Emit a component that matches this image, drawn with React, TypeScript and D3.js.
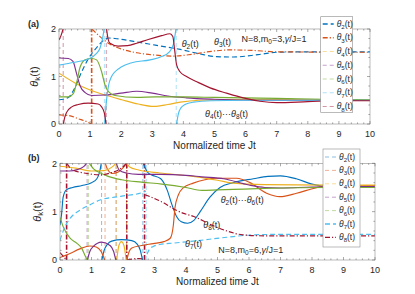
import React from 'react';
import * as d3 from 'd3';

type Pt = [number, number];

const COLORS = ['#0072BD', '#D95319', '#EDB120', '#7E2F8E', '#77AC30', '#4DBEEE', '#A2142F'];
const SERIES_K = [2, 3, 4, 5, 6, 7, 8];
const X_TICKS = [0, 1, 2, 3, 4, 5, 6, 7, 8, 9, 10];
const Y_TICKS = [0, 1, 2];

// ---------- panel (a): N=8, m0=3 ----------
const aTheta2: Pt[][] = [[[0, 0.51], [0.3, 0.56], [0.5, 0.75], [0.73, 1.1], [0.94, 1.37], [1.2, 1.6], [1.45, 1.77], [1.6, 1.81], [1.8, 1.8], [2.4, 1.74], [3.1, 1.66], [3.9, 1.57], [4.5, 1.48], [5.0, 1.42], [5.6, 1.41], [6.4, 1.46], [7.0, 1.51], [8, 1.52], [10, 1.52]]];
const aTheta3: Pt[][] = [
  [[0, 0.19], [0.3, 0.18], [0.62, 0.11], [0.89, 0.05], [1.04, 0]],
  [[1.06, 2.0], [1.3, 1.85], [1.64, 1.68], [2.0, 1.58], [2.5, 1.5], [3.1, 1.45], [3.7, 1.43], [4.3, 1.47], [4.9, 1.53], [5.5, 1.56], [6.2, 1.55], [7, 1.52], [10, 1.51]],
];
const aTheta4: Pt[][] = [[[0, 1.07], [0.5, 0.87], [0.94, 0.73], [1.48, 0.61], [2.02, 0.51], [2.55, 0.42], [3.05, 0.37], [3.5, 0.41], [3.9, 0.46], [4.5, 0.5], [6, 0.52], [8, 0.51], [10, 0.5]]];
const aTheta5: Pt[][] = [[[0, 1.39], [0.3, 1.38], [0.45, 1.32], [0.57, 1.05], [0.68, 0.8], [0.84, 0.66], [1.05, 0.6], [1.5, 0.61], [2.0, 0.65], [2.5, 0.69], [3.0, 0.65], [3.5, 0.59], [4.1, 0.55], [5, 0.52], [6.5, 0.5], [10, 0.5]]];
const aTheta6: Pt[][] = [[[0, 0.57], [0.3, 0.57], [0.46, 0.64], [0.57, 0.88], [0.68, 1.2], [0.84, 1.35], [1.05, 1.38], [1.21, 1.35], [1.37, 1.1], [1.48, 0.82], [1.59, 0.68], [1.8, 0.6], [2.5, 0.56], [3.1, 0.57], [4, 0.57], [5, 0.56], [6, 0.55], [7, 0.54], [8.5, 0.52], [10, 0.51]]];
const aTheta7: Pt[][] = [
  [[0, 1.24], [0.5, 1.3], [0.94, 1.37], [1.2, 1.48], [1.32, 1.6], [1.4, 1.8], [1.45, 2.0]],
  [[1.47, 0], [1.52, 0.45], [1.59, 0.8], [1.69, 1.0], [1.8, 1.1], [2.0, 1.2], [2.34, 1.29], [2.93, 1.35], [3.3, 1.42], [3.55, 1.52], [3.68, 1.68], [3.76, 2.0]],
  [[3.78, 0], [3.84, 0.22], [3.92, 0.34], [4.05, 0.41], [4.32, 0.46], [4.9, 0.49], [6, 0.5], [8, 0.5], [10, 0.5]],
];
const aTheta8: Pt[][] = [
  [[0, 1.77], [0.07, 1.87], [0.13, 2.0]],
  [[0.14, 0], [0.18, 0.13], [0.25, 0.25], [0.41, 0.36], [0.62, 0.41], [0.94, 0.44], [1.26, 0.42], [1.37, 0.36], [1.46, 0.23], [1.51, 0]],
  [[1.53, 2.0], [1.57, 1.82], [1.64, 1.7], [1.9, 1.64], [2.2, 1.65], [2.5, 1.7], [2.87, 1.78], [3.3, 1.86], [3.57, 1.9], [3.66, 1.84], [3.72, 1.55], [3.78, 1.25], [3.89, 1.1], [4.1, 1.0], [4.43, 0.89], [4.86, 0.76], [5.39, 0.65], [5.93, 0.55], [6.46, 0.48], [7.0, 0.45], [8.0, 0.47], [9, 0.49], [10, 0.49]],
];
// wrap / jump verticals: [k, t, from, to]
const aJumps: [number, number, number, number][] = [[8, 0.135, 0, 2], [3, 1.05, 0, 2], [7, 1.46, 0, 2], [8, 1.52, 0, 2], [7, 3.77, 0, 2]];

// ---------- panel (b): N=8, m0=6 ----------
const bTheta2: Pt[][] = [
  [[0, 0.72], [0.05, 0.95], [0.1, 1.3], [0.2, 1.45], [0.4, 1.5], [0.7, 1.54], [1.0, 1.6], [1.17, 1.68], [1.25, 1.8], [1.31, 2.0]],
  [[1.33, 0], [1.4, 0.2], [1.5, 0.32], [1.64, 0.39], [1.96, 0.42], [2.28, 0.4], [2.45, 0.33], [2.55, 0.2], [2.62, 0]],
  [[2.64, 2.0], [2.72, 1.88], [2.8, 1.8], [2.91, 1.76], [3.2, 1.68], [3.4, 1.45], [3.55, 1.15], [3.7, 0.9], [3.85, 0.79], [4.05, 0.76], [4.25, 0.82], [4.45, 1.0], [4.76, 1.3], [5.08, 1.5], [5.5, 1.6], [6.14, 1.68], [6.6, 1.73], [7.0, 1.74], [7.5, 1.68], [8.0, 1.57], [8.5, 1.52], [10, 1.52]],
];
const bTheta3: Pt[][] = [
  [[0, 0.05], [0.3, 0.13], [0.63, 0.23], [0.95, 0.29], [1.15, 0.27], [1.3, 0.18], [1.42, 0]],
  [[1.44, 2.0], [1.52, 1.86], [1.65, 1.79], [1.85, 1.82], [2.02, 1.92], [2.11, 2.0]],
  [[2.12, 0], [2.2, 0.18], [2.28, 0.25], [2.59, 0.3], [2.96, 0.34], [3.3, 0.38], [3.5, 0.45], [3.6, 0.73], [3.65, 1.08], [3.76, 1.35], [3.91, 1.49], [4.23, 1.59], [4.6, 1.66], [4.97, 1.69], [5.61, 1.69], [6.03, 1.6], [6.56, 1.38], [6.98, 1.31], [7.51, 1.38], [8.04, 1.48], [8.4, 1.53], [10, 1.54]],
];
const bTheta4: Pt[][] = [
  [[0, 1.94], [0.5, 1.9], [1.0, 1.84], [1.4, 1.85], [1.65, 1.92], [1.78, 2.0]],
  [[1.8, 0], [1.87, 0.3], [1.95, 0.38], [2.03, 0.3], [2.1, 0]],
  [[2.12, 2.0], [2.2, 1.93], [2.5, 1.86], [3.17, 1.8], [4.23, 1.73], [5.0, 1.65], [5.5, 1.59], [6.5, 1.56], [8.5, 1.55], [10, 1.55]],
];
const bTheta5: Pt[][] = [
  [[0, 1.84], [0.3, 1.84], [0.55, 1.87], [0.75, 1.93], [0.85, 2.0]],
  [[0.87, 0], [0.95, 0.18], [1.06, 0.28], [1.32, 0.37], [1.59, 0.3], [1.7, 0.18], [1.77, 0]],
  [[1.79, 2.0], [1.88, 1.86], [2.1, 1.8], [2.5, 1.77], [3.2, 1.77], [4.0, 1.75], [4.5, 1.72], [5.2, 1.68], [6.0, 1.55], [6.5, 1.5], [7.0, 1.49], [8.0, 1.51], [10, 1.52]],
];
const bTheta6: Pt[][] = [
  [[0, 0.88], [0.1, 0.69], [0.32, 0.45], [0.53, 0.35], [0.69, 0.24], [0.79, 0.1], [0.86, 0]],
  [[0.93, 2.0], [1.11, 1.86], [1.22, 1.82], [1.53, 1.73], [1.96, 1.66], [2.59, 1.61], [3.23, 1.57], [4.0, 1.5], [4.5, 1.44], [5.0, 1.45], [5.5, 1.46], [6.5, 1.48], [8.5, 1.5], [10, 1.5]],
];
const bTheta7: Pt[][] = [
  [[0, 0.41], [0.16, 0.69], [0.32, 0.86], [0.63, 1.03], [0.95, 1.14], [1.27, 1.24], [1.96, 1.32], [2.59, 1.39], [2.72, 1.42]],
  [[2.76, 0.12], [2.85, 0.23], [2.96, 0.28], [3.17, 0.32], [3.6, 0.35], [4.23, 0.39], [5.29, 0.47], [6.14, 0.52], [7, 0.53], [10, 0.53]],
];
const bTheta8: Pt[][] = [
  [[0, 0.15], [0.1, 0.08], [0.2, 0]],
  [[0.22, 2.0], [0.3, 1.92], [0.42, 1.86], [0.85, 1.79], [1.27, 1.76], [1.6, 1.8], [1.9, 1.88], [2.05, 1.96], [2.11, 2.0]],
  [[2.13, 0], [2.3, 0.02], [2.5, 0.03], [2.67, 0.02]],
  [[2.7, 1.35], [3.0, 1.27], [3.3, 1.18], [3.6, 1.06], [3.9, 0.97], [4.25, 0.9], [4.76, 0.74], [5.3, 0.6], [5.8, 0.52], [6.5, 0.5], [10, 0.5]],
];
const bJumps: [number, number, number, number][] = [
  [8, 0.21, 0, 2], [5, 0.86, 0, 2], [6, 0.9, 0, 2], [2, 1.32, 0, 2], [3, 1.43, 0, 2],
  [5, 1.78, 0, 2], [4, 1.79, 0, 2], [4, 2.11, 0, 2], [3, 2.115, 0, 2], [8, 2.12, 0, 2],
  [2, 2.63, 0, 2], [8, 2.685, 0, 2], [7, 2.74, 0, 2],
];

type Style = 'solid' | 'dash' | 'dashdot' | 'light';
const DASH: Record<string, string | undefined> = { solid: undefined, dash: '5,3', dashdot: '5,2,1.2,2', light: '4,3' };

const aPlotStyle: Style[] = ['dash', 'dashdot', 'solid', 'solid', 'solid', 'solid', 'solid'];
const aLegendStyle: Style[] = ['dash', 'dashdot', 'light', 'light', 'light', 'light', 'light'];
const bPlotStyle: Style[] = ['solid', 'solid', 'solid', 'solid', 'solid', 'dash', 'dashdot'];
const bLegendStyle: Style[] = ['light', 'light', 'light', 'light', 'light', 'dash', 'dashdot'];

const FONT = "'Liberation Sans', Arial, Helvetica, sans-serif";
const TXT = '#262626';

function Theta({ k }: { k: string | number }) {
  return (
    <>
      <tspan fontStyle="italic">θ</tspan>
      <tspan dy={2.4} fontSize="0.72em">{k}</tspan>
      <tspan dy={-2.4}>(t)</tspan>
    </>
  );
}

interface PanelProps {
  id: string;
  x0: number; x1: number; yTop: number; yBot: number;
  series: Pt[][][];
  plotStyle: Style[];
  legendStyle: Style[];
  jumps: [number, number, number, number][];
  leg: { x: number; y: number; w: number; h: number; row0: number; dy: number };
  boldJump: number;
  letter: string;
  ylabX: number;
  children?: React.ReactNode;
}

function Panel(p: PanelProps) {
  const x = d3.scaleLinear().domain([0, 10]).range([p.x0, p.x1]);
  const y = d3.scaleLinear().domain([0, 2]).range([p.yBot, p.yTop]);
  const line = d3.line<Pt>().x((d) => x(d[0])).y((d) => y(d[1])).curve(d3.curveMonotoneX);
  const minorX = d3.range(0, 10.001, 0.2).filter((v) => Math.abs(v - Math.round(v)) > 1e-6);
  const minorY = d3.range(0, 2.001, 0.2).filter((v) => Math.abs(v - Math.round(v)) > 1e-6);
  const axisCol = '#555';
  const clipId = 'clip-' + p.id;
  return (
    <g>
      <defs>
        <clipPath id={clipId}>
          <rect x={p.x0} y={p.yTop} width={p.x1 - p.x0} height={p.yBot - p.yTop} />
        </clipPath>
      </defs>
      <g clipPath={`url(#${clipId})`}>
        {p.jumps.map(([k, t, lo, hi], i) => {
          const idx = SERIES_K.indexOf(k);
          const bold = k === p.boldJump;
          return (
            <line key={'j' + i} x1={x(t)} x2={x(t)} y1={y(lo)} y2={y(hi)}
              stroke={COLORS[idx]} strokeWidth={bold ? 1.6 : 1}
              strokeOpacity={bold ? 1 : 0.45}
              strokeDasharray={bold ? DASH[p.plotStyle[idx]] : DASH.light} />
          );
        })}
        {p.series.map((segs, si) =>
          segs.map((seg, j) => (
            <path key={si + '-' + j} d={line(seg) || ''} fill="none" stroke={COLORS[si]}
              strokeWidth={1.15} strokeDasharray={DASH[p.plotStyle[si]]} />
          ))
        )}
      </g>
      <rect x={p.x0} y={p.yTop} width={p.x1 - p.x0} height={p.yBot - p.yTop} fill="none" stroke="#8c8c8c" strokeWidth={0.6} />
      {X_TICKS.map((v) => (
        <g key={'xt' + v}>
          <line x1={x(v)} x2={x(v)} y1={p.yBot} y2={p.yBot - 3} stroke={axisCol} strokeWidth={0.5} />
          <line x1={x(v)} x2={x(v)} y1={p.yTop} y2={p.yTop + 3} stroke={axisCol} strokeWidth={0.5} />
          <text x={x(v)} y={p.yBot + 12.5} textAnchor="middle" fontSize={9} fill={TXT}>{v}</text>
        </g>
      ))}
      {minorX.map((v, i) => (
        <g key={'xm' + i}>
          <line x1={x(v)} x2={x(v)} y1={p.yBot} y2={p.yBot - 1.6} stroke={axisCol} strokeWidth={0.5} />
          <line x1={x(v)} x2={x(v)} y1={p.yTop} y2={p.yTop + 1.6} stroke={axisCol} strokeWidth={0.5} />
        </g>
      ))}
      {Y_TICKS.map((v) => (
        <g key={'yt' + v}>
          <line x1={p.x0} x2={p.x0 + 3} y1={y(v)} y2={y(v)} stroke={axisCol} strokeWidth={0.5} />
          <line x1={p.x1} x2={p.x1 - 3} y1={y(v)} y2={y(v)} stroke={axisCol} strokeWidth={0.5} />
          <text x={p.x0 - 3} y={y(v) + 3.2} textAnchor="end" fontSize={9} fill={TXT}>{v}</text>
        </g>
      ))}
      {minorY.map((v, i) => (
        <g key={'ym' + i}>
          <line x1={p.x0} x2={p.x0 + 1.6} y1={y(v)} y2={y(v)} stroke={axisCol} strokeWidth={0.5} />
          <line x1={p.x1} x2={p.x1 - 1.6} y1={y(v)} y2={y(v)} stroke={axisCol} strokeWidth={0.5} />
        </g>
      ))}
      <text x={(p.x0 + p.x1) / 2} y={p.yBot + 24.5} textAnchor="middle" fontSize={10} fill={TXT}>Normalized time Jt</text>
      <text transform={`translate(${p.ylabX},${(p.yTop + p.yBot) / 2}) rotate(-90)`} textAnchor="middle" fontSize={11} fill={TXT}>
        <Theta k="k" />
      </text>
      <text x={28} y={p.yTop - 2} fontSize={9} fontWeight="bold" fill={TXT}>{p.letter}</text>
      {p.children}
      <rect x={p.leg.x} y={p.leg.y} width={p.leg.w} height={p.leg.h} fill="#fff" stroke="#8c8c8c" strokeWidth={0.6} />
      {SERIES_K.map((k, i) => {
        const cy = p.leg.row0 + i * p.leg.dy;
        const st = p.legendStyle[i];
        return (
          <g key={'lg' + k}>
            <line x1={p.leg.x + 2} x2={p.leg.x + 13} y1={cy} y2={cy} stroke={COLORS[i]}
              strokeWidth={st === 'light' ? 1 : 1.3} strokeOpacity={st === 'light' ? 0.45 : 1}
              strokeDasharray={DASH[st]} />
            <text x={p.leg.x + 16} y={cy + 2.6} fontSize={8.5} fill={TXT}><Theta k={k} /></text>
          </g>
        );
      })}
    </g>
  );
}

export default function App() {
  return (
    <svg width={415} height={294} viewBox="0 0 415 294"
      style={{ position: 'absolute', left: 0, top: 0, background: '#fff' }}
      fontFamily={FONT}>
      <rect x={0} y={0} width={415} height={294} fill="#fff" />
      <Panel id="a" x0={59} x1={370} yTop={29} yBot={124}
        series={[aTheta2, aTheta3, aTheta4, aTheta5, aTheta6, aTheta7, aTheta8]}
        plotStyle={aPlotStyle} legendStyle={aLegendStyle} jumps={aJumps} boldJump={3}
        leg={{ x: 320.7, y: 16.7, w: 32, h: 95.8, row0: 24, dy: 13.75 }} letter="(a)" ylabX={37.5}>
        <text x={181.7} y={46.5} fontSize={9} fill={TXT}><Theta k={2} /></text>
        <text x={214} y={45} fontSize={9} fill={TXT}><Theta k={3} /></text>
        <text x={241.5} y={41.5} fontSize={9} fill={TXT}>
          N=8,m<tspan dy={2.4} fontSize="0.72em">0</tspan><tspan dy={-2.4}>=3,</tspan><tspan fontStyle="italic">γ</tspan>/J=1
        </text>
        <text x={205} y={116.5} fontSize={9} fill={TXT}><Theta k={4} />···<Theta k={8} /></text>
      </Panel>
      <Panel id="b" x0={60} x1={375} yTop={163.3} yBot={260}
        series={[bTheta2, bTheta3, bTheta4, bTheta5, bTheta6, bTheta7, bTheta8]}
        plotStyle={bPlotStyle} legendStyle={bLegendStyle} jumps={bJumps} boldJump={8}
        leg={{ x: 323, y: 149, w: 37, h: 98, row0: 157, dy: 13.4 }} letter="(b)" ylabX={41}>
        <text x={220.7} y={203} fontSize={9} fill={TXT}><Theta k={2} />···<Theta k={6} /></text>
        <text x={203.3} y={228} fontSize={9} fill={TXT}><Theta k={8} /></text>
        <text x={185} y={247} fontSize={9} fill={TXT}><Theta k={7} /></text>
        <text x={218.3} y={253} fontSize={9} fill={TXT}>
          N=8,m<tspan dy={2.4} fontSize="0.72em">0</tspan><tspan dy={-2.4}>=6,</tspan><tspan fontStyle="italic">γ</tspan>/J=1
        </text>
      </Panel>
    </svg>
  );
}
